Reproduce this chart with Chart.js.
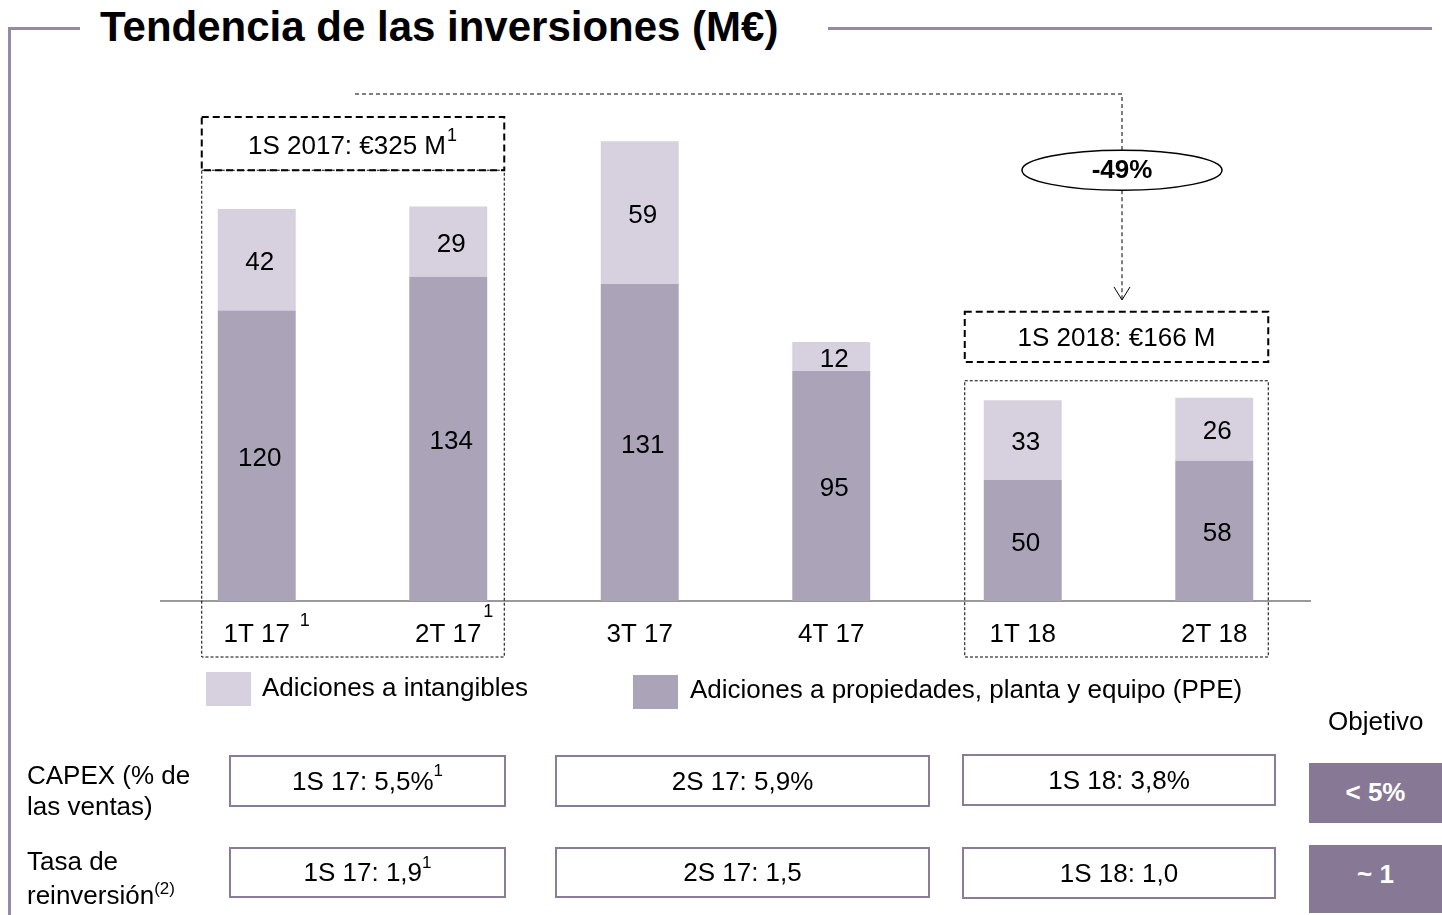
<!DOCTYPE html>
<html lang="es">
<head>
    <meta charset="UTF-8">
    <title>Tendencia de las inversiones</title>
    <script src="https://cdn.jsdelivr.net/npm/chart.js@4.4.0/dist/chart.umd.min.js"></script>
    <style>
        body{
            margin: 0;
            width: 1442px;
            height: 915px;
            overflow: hidden;
            background: #ffffff;
            font-family: "Liberation Sans", Arial, sans-serif;
            position: relative;
        }
        #chart{
            position: absolute;
            left: 0;
            top: 0;
        }
        .abs{
            position: absolute;
            white-space: nowrap;
        }
        .titulo{
            left: 100px;
            top: 3px;
            font-size: 42px;
            font-weight: bold;
            color: #000;
        }
        .marco{
            position: absolute;
            background: #9589a5;
        }
        .leyenda{
            font-size: 26px;
            color: #000;
        }
        .caja{
            position: absolute;
            border: 2px solid #8a7b99;
            box-sizing: border-box;
            font-size: 26px;
            display: flex;
            align-items: center;
            justify-content: center;
        }
        .objetivo{
            position: absolute;
            background: #877896;
            color: #fff;
            font-size: 26px;
            font-weight: bold;
            display: flex;
            align-items: center;
            justify-content: center;
        }
        .fila{
            font-size: 26px;
            line-height: 31px;
        }
        sup{
            font-size: 17px;
            line-height: 0;
            position: relative;
            top: -10px;
            vertical-align: baseline;
        }
    </style>
</head>
<body>
    <div class="marco" style="left:8px;top:27px;width:3px;height:888px;"></div>
    <div class="marco" style="left:8px;top:27px;width:72px;height:3px;"></div>
    <div class="marco" style="left:828px;top:27px;width:604px;height:3px;"></div>
    <div class="abs titulo">Tendencia de las inversiones (M€)</div>

    <canvas id="chart" width="1442" height="915"></canvas>

    <div class="abs" style="left:206px;top:672px;width:45px;height:34px;background:#d7d0de;"></div>
    <div class="abs leyenda" style="left:262px;top:672px;">Adiciones a intangibles</div>
    <div class="abs" style="left:633px;top:675px;width:45px;height:34px;background:#aba3b8;"></div>
    <div class="abs leyenda" style="left:690px;top:674px;">Adiciones a propiedades, planta y equipo (PPE)</div>

    <div class="abs leyenda" style="left:1328px;top:706px;">Objetivo</div>

    <div class="abs fila" style="left:27px;top:760px;">CAPEX (% de<br>las ventas)</div>
    <div class="caja" style="left:229px;top:755px;width:277px;height:52px;">1S 17: 5,5%<sup>1</sup></div>
    <div class="caja" style="left:555px;top:755px;width:375px;height:52px;">2S 17: 5,9%</div>
    <div class="caja" style="left:962px;top:754px;width:314px;height:52px;">1S 18: 3,8%</div>
    <div class="objetivo" style="left:1309px;top:763px;width:133px;height:60px;padding-bottom:2px;box-sizing:border-box;">&lt; 5%</div>

    <div class="abs fila" style="left:27px;top:844px;line-height:34px;">Tasa de<br>reinversión<sup>(2)</sup></div>
    <div class="caja" style="left:229px;top:847px;width:277px;height:51px;">1S 17: 1,9<sup>1</sup></div>
    <div class="caja" style="left:555px;top:847px;width:375px;height:51px;">2S 17: 1,5</div>
    <div class="caja" style="left:962px;top:847px;width:314px;height:52px;">1S 18: 1,0</div>
    <div class="objetivo" style="left:1309px;top:845px;width:133px;height:68px;padding-bottom:10px;box-sizing:border-box;">~ 1</div>

    <script>
        // datos
        const quarters = ['1T 17', '2T 17', '3T 17', '4T 17', '1T 18', '2T 18'];
        const ppe = [120, 134, 131, 95, 50, 58];
        const intangibles = [42, 29, 59, 12, 33, 26];
        const tickSup = ['1', '1', '', '', '', ''];
        const semester2017 = '1S 2017: €325 M';
        const semester2018 = '1S 2018: €166 M';
        const change = '-49%';

        const FONT = '"Liberation Sans", Arial, sans-serif';

        function dashedRect(ctx, x1, y1, x2, y2, width, dash) {
            ctx.save();
            ctx.strokeStyle = '#000';
            ctx.lineWidth = width;
            ctx.setLineDash(dash);
            ctx.strokeRect(x1, y1, x2 - x1, y2 - y1);
            ctx.restore();
        }

        var annotations = {
            id: 'annotations',
            afterDatasetsDraw: function(chart) {
                const ctx = chart.ctx;
                const x = chart.scales.x;
                const y = chart.scales.y;

                // etiquetas de valores dentro de cada segmento
                ctx.save();
                ctx.font = '26px ' + FONT;
                ctx.fillStyle = '#000';
                ctx.textAlign = 'center';
                ctx.textBaseline = 'middle';
                chart.data.datasets.forEach(function(ds, di) {
                    chart.getDatasetMeta(di).data.forEach(function(bar, i) {
                        ctx.fillText(ds.data[i], bar.x + 3, (bar.y + bar.base) / 2 + 3);
                    });
                });

                // superindices de las etiquetas del eje
                ctx.font = '18px ' + FONT;
                tickSup.forEach(function(s, i) {
                    if (!s) return;
                    const px = x.getPixelForValue(i);
                    if (i === 0) ctx.fillText(s, px + 48, 621);
                    else ctx.fillText(s, px + 40, 612);
                });
                ctx.restore();

                const bottom = chart.chartArea.bottom + 56;
                // 2017
                const a1 = x.getPixelForValue(0) - 55, a2 = x.getPixelForValue(1) + 56;
                dashedRect(ctx, a1, y.getPixelForValue(200), a2, y.getPixelForValue(178), 2, [7, 4]);
                dashedRect(ctx, a1, y.getPixelForValue(178), a2, bottom, 1, [3, 2]);
                // 2018
                const b1 = x.getPixelForValue(4) - 58, b2 = x.getPixelForValue(5) + 54;
                dashedRect(ctx, b1, y.getPixelForValue(119.5), b2, y.getPixelForValue(98.8), 2, [7, 4]);
                dashedRect(ctx, b1, y.getPixelForValue(91), b2, bottom, 1, [3, 2]);

                ctx.save();
                ctx.font = '26px ' + FONT;
                ctx.fillStyle = '#000';
                ctx.textAlign = 'center';
                ctx.textBaseline = 'middle';
                const c1 = (a1 + a2) / 2;
                ctx.fillText(semester2017, c1 - 6, y.getPixelForValue(188.5) + 2);
                const w1 = ctx.measureText(semester2017).width;
                ctx.font = '18px ' + FONT;
                ctx.fillText('1', c1 - 6 + w1 / 2 + 6, y.getPixelForValue(188.5) - 9);
                ctx.font = '26px ' + FONT;
                const c2 = (b1 + b2) / 2;
                ctx.fillText(semester2018, c2, y.getPixelForValue(109.2) + 2);

                // linea de comparacion con flecha
                const lx = 1122;
                const ly = y.getPixelForValue(209.5);
                const ey = y.getPixelForValue(178);
                const tip = y.getPixelForValue(124.4);
                ctx.strokeStyle = '#000';
                ctx.lineWidth = 1;
                ctx.setLineDash([4, 3]);
                ctx.beginPath();
                ctx.moveTo(c1 + 2, ly);
                ctx.lineTo(lx, ly);
                ctx.lineTo(lx, ey - 20);
                ctx.moveTo(lx, ey + 20);
                ctx.lineTo(lx, tip);
                ctx.stroke();
                ctx.setLineDash([]);
                ctx.beginPath();
                ctx.moveTo(lx - 8, tip - 13);
                ctx.lineTo(lx, tip);
                ctx.lineTo(lx + 8, tip - 13);
                ctx.stroke();

                ctx.lineWidth = 1.5;
                ctx.beginPath();
                ctx.ellipse(lx, ey, 100, 20, 0, 0, Math.PI * 2);
                ctx.fillStyle = '#fff';
                ctx.fill();
                ctx.stroke();
                ctx.fillStyle = '#000';
                ctx.font = 'bold 26px ' + FONT;
                ctx.fillText(change, lx, ey + 1);
                ctx.restore();
            }
        };

        var ctx = document.getElementById('chart').getContext('2d');
        var myChart = new Chart(ctx, {
            type: 'bar',
            data: {
                labels: quarters,
                datasets: [{
                    label: 'Adiciones a propiedades, planta y equipo (PPE)',
                    data: ppe,
                    backgroundColor: '#aba3b8'
                }, {
                    label: 'Adiciones a intangibles',
                    data: intangibles,
                    backgroundColor: '#d7d0de'
                }]
            },
            options: {
                responsive: false,
                animation: false,
                events: [],
                layout: {
                    padding: {left: 161, right: 132, top: 117, bottom: 254}
                },
                datasets: {
                    bar: {categoryPercentage: 1, barPercentage: 0.407}
                },
                scales: {
                    x: {
                        stacked: true,
                        grid: {display: false, drawTicks: false},
                        border: {display: true, color: '#9a9a9a', width: 2},
                        ticks: {
                            padding: 18,
                            color: '#000',
                            font: {family: FONT, size: 26}
                        },
                        afterFit: function(s) { s.height = 60; }
                    },
                    y: {
                        stacked: true,
                        display: false,
                        min: 0,
                        max: 200
                    }
                },
                plugins: {
                    legend: false,
                    tooltip: {enabled: false}
                }
            },
            plugins: [annotations]
        });
    </script>
</body>
</html>
